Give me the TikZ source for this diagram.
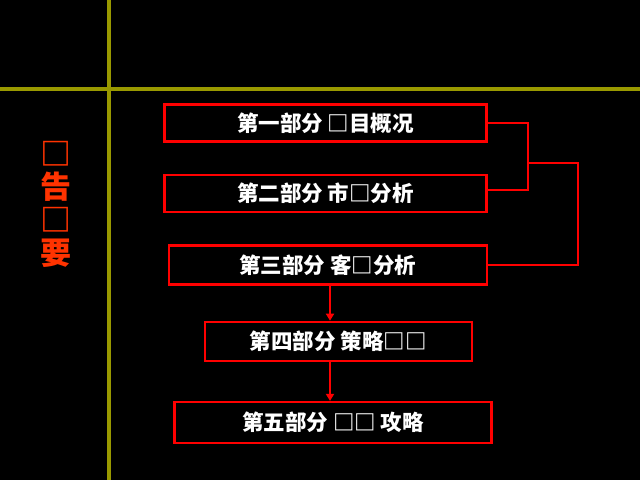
\documentclass[tikz,border=0pt]{standalone}
\usepackage{fontspec}
\newfontfamily\cjk{Noto Sans CJK SC}
\usetikzlibrary{arrows.meta}
\definecolor{olivel}{RGB}{153,153,0}
\definecolor{redl}{RGB}{255,0,0}
\definecolor{orng}{RGB}{255,51,0}
\begin{document}
\begin{tikzpicture}[x=1pt,y=-1pt,
  box/.style={draw=redl, line width=2.2pt, text=white, font=\cjk\bfseries\fontsize{21.5}{21.5}\selectfont, inner sep=0pt, anchor=center},
  conn/.style={draw=redl, line width=2pt},
  arr/.style={conn,-{Triangle[width=8pt,length=7pt]}}]
\fill[black] (0,0) rectangle (640,480);
\useasboundingbox (0,0) rectangle (640,480);
\draw[olivel, line width=4pt] (108.5,0) -- (108.5,480);
\draw[olivel, line width=4pt] (0,89) -- (640,89);
\node[box, minimum width=322pt, minimum height=37pt] (b1) at (325.5,123) {第一部分 □目概况};
\node[box, minimum width=322pt, minimum height=37pt] (b2) at (325.5,193.3) {第二部分 市□分析};
\node[box, minimum width=318pt, minimum height=39pt] (b3) at (327.7,265) {第三部分 客□分析};
\node[box, minimum width=267pt, minimum height=39pt] (b4) at (338.3,341.3) {第四部分 策略□□};
\node[box, minimum width=317pt, minimum height=41pt] (b5) at (333,422.5) {第五部分 □□ 攻略};
\node[font=\cjk\bfseries\fontsize{31}{33}\selectfont, text=orng, align=center, inner sep=0pt] (t) at (56,204) {□\\告\\□\\要};
\coordinate (ax) at (330,0);
\coordinate (j1) at (528,0);
\coordinate (j2) at (578,163);
\draw[arr] (b3.south -| ax) -- (b4.north -| ax);
\draw[arr] (b4.south -| ax) -- (b5.north -| ax);
\draw[conn] (b1.east) -- (b1.east -| j1) -- ([yshift=3pt]b2.east -| j1) -- ([yshift=3pt]b2.east);
\draw[conn] (j1 |- j2) -- (j2) -- (j2 |- b3.east) -- (b3.east);
\end{tikzpicture}
\end{document}
